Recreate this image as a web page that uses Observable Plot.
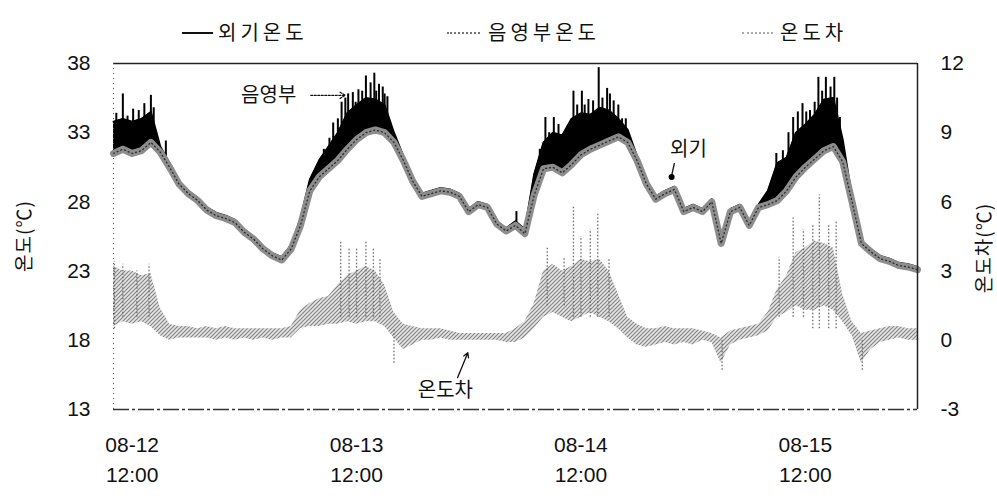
<!DOCTYPE html>
<html><head><meta charset="utf-8">
<script src="https://cdn.jsdelivr.net/npm/d3@7"></script>
<script src="https://cdn.jsdelivr.net/npm/@observablehq/plot@0.6"></script>
<style>
body{margin:0;background:#fff;}
#wrap{position:relative;width:997px;height:496px;overflow:hidden;}
.lab{position:absolute;font-family:"Noto Sans CJK KR",sans-serif;font-size:20px;line-height:20px;letter-spacing:4px;color:#111;white-space:nowrap;}
.ln{position:absolute;height:0;}
.rot{position:absolute;font-family:"Noto Sans CJK KR",sans-serif;font-size:19px;line-height:19px;color:#111;white-space:nowrap;transform:translate(-50%,-50%) rotate(-90deg);letter-spacing:1px;}
</style></head>
<body><div id="wrap"></div>
<script>
// ---- data (hourly, starting 08-12 10:00) ----
const startTime = "2000-08-12T10:00:00Z";
const xTickHours = [2, 26, 50, 74];
const xTickLabels = ["08-12\n12:00", "08-13\n12:00", "08-14\n12:00", "08-15\n12:00"];
const leftTicks = [13, 18, 23, 28, 33, 38];
const rightTickLabels = ["-3", "0", "3", "6", "9", "12"];

const shade = [31.5,31.8,31.5,31.7,32.3,31.6,30.5,29.3,28.6,28.1,
  27.4,27.0,26.8,26.5,25.8,25.3,24.6,24.1,23.8,24.6,
  26.3,28.8,29.8,30.4,31.0,31.8,32.5,33.0,33.2,33.0,
  32.3,31.0,29.5,28.4,28.6,28.8,28.7,28.4,27.3,27.8,
  27.6,26.4,25.9,26.3,25.7,28.5,30.4,30.5,30.1,30.7,
  31.4,31.8,32.1,32.4,32.7,32.3,31.0,29.3,28.2,28.6,
  28.9,27.3,27.6,27.3,28.0,25.0,27.3,27.6,26.3,27.6,
  27.8,28.1,28.8,29.8,30.5,31.1,31.7,32.0,30.9,28.0,
  25.0,24.4,23.9,23.7,23.4,23.3,23.1];

const outdoor = [33.8,34.0,33.8,34.0,34.5,32.0,30.8,29.5,28.8,28.3,
  27.6,27.2,27.0,26.7,26.0,25.5,24.8,24.3,24.0,24.9,
  26.8,29.6,31.0,32.0,33.0,34.4,35.0,35.5,35.4,35.0,
  33.0,31.3,29.7,28.6,28.8,29.0,28.9,28.6,27.5,28.0,
  27.8,26.6,26.1,26.6,26.0,30.0,32.3,33.0,32.8,34.0,
  34.4,34.3,34.8,34.6,34.0,33.2,31.3,29.5,28.4,28.8,
  29.1,27.5,27.8,27.5,28.2,25.2,27.5,27.8,26.5,27.8,
  28.8,30.8,31.2,33.0,33.6,34.3,35.4,35.5,32.5,28.3,
  25.2,24.6,24.1,23.9,23.6,23.5,23.3];

// outdoor short peaks: [hour, peak temperature]
const outdoorPeakHours = [0.3,1.0,1.5,2.1,2.7,3.3,4.0,4.3,5.6,
  22.5,23.1,23.5,24.0,24.4,24.8,25.1,25.6,25.9,26.2,26.6,27.0,27.5,27.9,28.1,28.4,28.8,29.0,29.3,
  43.1,45.6,46.2,46.6,47.1,47.6,48.6,49.2,49.6,50.1,50.4,50.8,51.3,51.9,52.3,52.8,53.1,53.5,54.0,54.4,54.8,
  70.9,71.6,72.2,72.7,73.2,73.7,74.1,74.5,75.0,75.4,75.8,76.2,76.7,77.1,77.4,77.7];
const outdoorPeakTemps = [34.4,35.8,34.2,34.7,34.6,35.1,35.7,34.8,32.4,
  31.8,32.6,33.7,34.0,35.2,35.5,35.8,35.9,35.2,36.1,36.0,37.1,36.6,37.3,36.0,36.5,36.3,35.8,35.6,
  27.3,31.8,34.1,33.0,34.1,33.6,33.5,36.0,35.0,36.0,35.0,35.4,35.3,37.7,35.5,36.2,35.8,35.3,35.0,34.0,34.0,
  31.5,31.7,33.0,34.1,34.5,35.1,34.5,34.6,35.2,37.0,36.0,37.0,36.3,37.0,35.5,34.1];

// temperature difference band (right axis units)
const diffLow = [0.6,0.8,0.7,0.8,0.6,0.2,0.0,0.1,0.1,0.1,
  0.1,0.0,0.1,0.0,0.1,0.0,0.1,0.0,0.1,0.1,
  0.5,0.6,0.6,0.7,0.7,0.8,0.7,0.8,0.8,0.6,
  0.1,-0.4,-0.2,0.0,0.0,0.1,0.0,0.0,0.0,0.0,
  0.0,0.0,-0.1,-0.1,0.1,0.5,1.0,1.2,1.0,0.8,
  1.0,1.2,1.0,0.8,0.5,0.1,-0.2,-0.3,-0.2,-0.1,
  -0.2,-0.1,-0.2,0.0,-0.1,-1.0,-0.2,0.0,0.1,0.2,
  0.4,1.0,1.2,1.5,1.3,1.3,1.5,1.3,0.8,0.2,
  -1.0,-0.4,-0.1,0.0,0.1,0.0,0.0];
const diffHigh = [3.2,3.0,3.0,2.8,2.9,1.4,0.7,0.6,0.6,0.5,
  0.6,0.5,0.6,0.5,0.5,0.5,0.5,0.5,0.5,0.6,
  1.3,1.6,1.8,1.9,2.4,2.8,3.0,3.2,3.0,2.4,
  1.2,0.7,0.6,0.5,0.5,0.5,0.4,0.3,0.3,0.3,
  0.3,0.3,0.3,0.5,0.8,1.6,3.0,3.3,3.0,3.2,
  3.5,3.4,3.5,3.0,2.0,1.0,0.7,0.5,0.5,0.6,
  0.5,0.5,0.5,0.4,0.3,0.1,0.4,0.5,0.6,0.7,
  1.2,2.2,2.8,3.8,4.0,4.3,4.2,4.0,2.0,0.8,
  0.3,0.4,0.5,0.6,0.6,0.5,0.5];

// dotted spikes of the difference: hour, from, to
const diffSpikeHours = [0.1,1.0,2.5,3.8, 24.3,25.2,26.0,27.0,27.8,28.5,30.0,
  46.4,48.2,49.2,50.0,51.0,51.8,53.0, 71.2,72.7,73.8,74.8,75.5,76.5,77.3, 65.1,80.1];
const diffSpikeFrom = [0.5,1.0,1.0,1.0, 1.0,1.0,1.0,1.0,1.0,1.0,-1.0,
  1.5,1.5,1.0,1.0,1.0,1.0,1.0, 1.0,1.0,1.0,0.5,0.5,0.5,0.5, -1.3,-1.3];
const diffSpikeTo = [3.4,3.3,3.0,3.3, 4.3,4.0,4.0,4.3,4.0,3.5,0.5,
  4.0,3.6,5.8,4.5,4.8,5.5,3.5, 3.6,5.3,4.8,5.0,6.3,5.0,5.2, 0.0,0.0];

// ---- helpers ----
const t0 = Date.parse(startTime);
const T = h => new Date(t0 + h * 3600e3);
const dToT = d => 18 + d * 5 / 3;           // right axis -> left axis scale
const interp = (arr, h) => { const i = Math.floor(h), f = h - i; return arr[i] * (1 - f) + arr[Math.min(i + 1, arr.length - 1)] * f; };

const rows = shade.map((s, i) => ({t: T(i), shade: s, outdoor: outdoor[i], dlo: dToT(diffLow[i]), dhi: dToT(diffHigh[i])}));
const peaks = outdoorPeakHours.map((h, i) => ({t: T(h), base: interp(outdoor, h) - 0.5, top: outdoorPeakTemps[i]}));
const dspikes = diffSpikeHours.map((h, i) => ({t: T(h), a: dToT(diffSpikeFrom[i]), b: dToT(diffSpikeTo[i])}));
const tEnd = T(86), tStart = T(0);

const chart = Plot.plot({
  width: 997, height: 496,
  marginLeft: 113, marginRight: 80, marginTop: 63, marginBottom: 87,
  style: {fontFamily: "'Liberation Sans', Arial, sans-serif", fontSize: "21px", color: "#111", background: "#fff"},
  x: {type: "utc", domain: [tStart, tEnd]},
  y: {domain: [13, 38]},
  marks: [
    // difference band
    Plot.areaY(rows, {x: "t", y1: "dlo", y2: "dhi", fill: "url(#hatchDiff)", curve: "linear"}),
    Plot.ruleX(dspikes, {x: "t", y1: "a", y2: "b", stroke: "#6a6a6a", strokeWidth: 1.3, strokeDasharray: "1.5 2"}),
    // outdoor temperature (black)
    Plot.areaY(rows, {x: "t", y1: "shade", y2: "outdoor", fill: "#000"}),
    Plot.line(rows, {x: "t", y: "outdoor", stroke: "#000", strokeWidth: 2}),
    Plot.ruleX(peaks, {x: "t", y1: "base", y2: "top", stroke: "#000", strokeWidth: 2}),
    // shade temperature (grey textured band)
    Plot.line(rows, {x: "t", y: "shade", stroke: "#8d8d8d", strokeWidth: 7}),
    Plot.line(rows, {x: "t", y: "shade", stroke: "#2a2a2a", strokeWidth: 1.3, strokeDasharray: "1 3"}),
    // frame
    Plot.ruleY([38], {stroke: "#222", strokeWidth: 1.5}),
    Plot.ruleY([13], {stroke: "#333", strokeWidth: 1.5, strokeDasharray: "16 3 3 3"}),
    Plot.ruleX([tEnd], {stroke: "#222", strokeWidth: 1.5}),
    Plot.ruleX([tStart], {stroke: "#555", strokeWidth: 1, strokeDasharray: "1 4"}),
    // axes
    Plot.axisY({anchor: "left", ticks: leftTicks, tickSize: 0, tickPadding: 23, label: null}),
    Plot.axisY({anchor: "right", ticks: leftTicks, tickFormat: (d) => rightTickLabels[leftTicks.indexOf(d)], tickSize: 0, tickPadding: 23, label: null}),
    Plot.axisX({ticks: xTickHours.map(T), tickFormat: (d) => xTickLabels[xTickHours.indexOf((d - t0) / 3600e3)], tickSize: 0, tickPadding: 22, lineHeight: 1.4, label: null}),
    // annotations
    Plot.text([{t: T(16.6), y: 35.7, s: "음영부"}], {x: "t", y: "y", text: "s", fontFamily: "Noto Sans CJK KR", fontSize: 20, fill: "#111"}),
    Plot.arrow([{a: T(21.1), b: T(24.8), y: 35.7}], {x1: "a", x2: "b", y1: "y", y2: "y", stroke: "#111", strokeWidth: 1.3, strokeDasharray: "2 1.5", headLength: 7}),
    Plot.text([{t: T(61.5), y: 31.8, s: "외기"}], {x: "t", y: "y", text: "s", fontFamily: "Noto Sans CJK KR", fontSize: 20, fill: "#111"}),
    Plot.link([{a: T(60.0), b: T(59.7), y1: 30.8, y2: 29.9}], {x1: "a", x2: "b", y1: "y1", y2: "y2", stroke: "#111", strokeWidth: 1.3}),
    Plot.dot([{t: T(59.7), y: 29.8}], {x: "t", y: "y", r: 3, fill: "#000"}),
    Plot.text([{t: T(35.5), y: 14.4, s: "온도차"}], {x: "t", y: "y", text: "s", fontFamily: "Noto Sans CJK KR", fontSize: 20, fill: "#111"}),
    Plot.arrow([{a: T(36.8), b: T(37.9), y1: 15.3, y2: 17.1}], {x1: "a", x2: "b", y1: "y1", y2: "y2", stroke: "#111", strokeWidth: 1.3, headLength: 6})
  ]
});

// hatch pattern for the difference band
const defs = d3.select(chart).insert("defs", ":first-child");
const pat = defs.append("pattern").attr("id", "hatchDiff").attr("patternUnits", "userSpaceOnUse").attr("width", 4).attr("height", 4);
pat.append("rect").attr("width", 4).attr("height", 4).attr("fill", "#e6e6e6");
pat.append("path").attr("d", "M-1,1 L1,-1 M0,4 L4,0 M3,5 L5,3").attr("stroke", "#858585").attr("stroke-width", 1.2);

const wrap = document.getElementById("wrap");
wrap.appendChild(chart);
chart.style.position = "absolute"; chart.style.left = "0"; chart.style.top = "0";

// legend (HTML, above the plot area)
const legend = [
  {x1: 182, x2: 213, tx: 218, text: "외기온도", style: "border-top:2px solid #111"},
  {x1: 447, x2: 480, tx: 488, text: "음영부온도", style: "border-top:2px dotted #777"},
  {x1: 742, x2: 773, tx: 780, text: "온도차", style: "border-top:2px dotted #aaa"}
];
for (const l of legend) {
  const ln = document.createElement("div");
  ln.className = "ln"; ln.style.cssText += `left:${l.x1}px;top:32px;width:${l.x2 - l.x1}px;${l.style}`;
  wrap.appendChild(ln);
  const tx = document.createElement("div");
  tx.className = "lab"; tx.style.left = l.tx + "px"; tx.style.top = "22px"; tx.textContent = l.text;
  wrap.appendChild(tx);
}
// axis titles
const yl = document.createElement("div"); yl.className = "rot"; yl.style.left = "22px"; yl.style.top = "236px"; yl.textContent = "온도(℃)"; wrap.appendChild(yl);
const yr = document.createElement("div"); yr.className = "rot"; yr.style.left = "982px"; yr.style.top = "248px"; yr.textContent = "온도차(℃)"; wrap.appendChild(yr);
</script>
</body></html>
